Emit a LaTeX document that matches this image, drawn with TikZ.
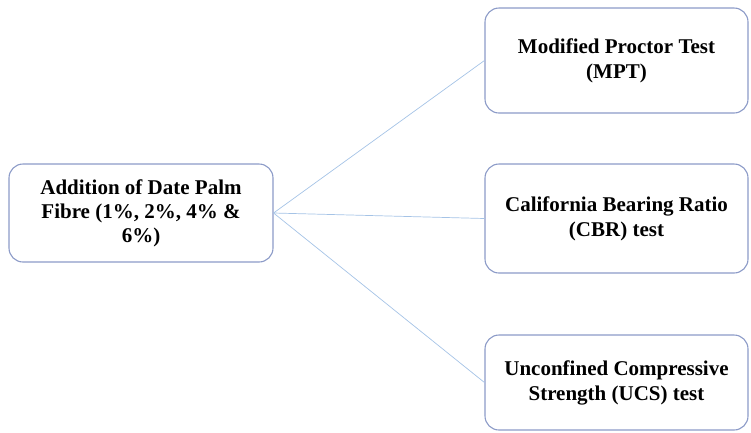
\documentclass[tikz,border=0pt]{standalone}
\usepackage{fontspec}
\setmainfont{Liberation Serif}
\usepackage{xcolor}
\definecolor{boxedge}{RGB}{140,155,200}
\definecolor{linkcol}{RGB}{165,195,230}
\usepackage{tikz}
\usetikzlibrary{calc,positioning}

\begin{document}
\begin{tikzpicture}[x=1pt,y=-1pt]
        \useasboundingbox (0,0) rectangle (751,432);
        \tikzset{testbox/.style={rectangle,rounded corners=14pt,
              draw=boxedge,line width=1.1pt,fill=white,
              minimum width=263pt,align=center,inner sep=0pt,
              font=\fontsize{21}{25}\selectfont\bfseries}}
        \node[testbox,minimum width=264pt,minimum height=98pt,
              font=\fontsize{21}{24}\selectfont\bfseries]
              (fibre) at (141,213) {Addition of Date Palm\\Fibre (1\%, 2\%, 4\% \&\\6\%)};
        \node[testbox,minimum height=105pt]
              (mpt) at (616.5,60.5) {Modified Proctor Test\\(MPT)};
        \node[testbox,minimum height=109pt]
              (cbr) at (616.5,218.5) {California Bearing Ratio\\(CBR) test};
        \node[testbox,minimum height=95pt]
              (ucs) at (616.5,382.5) {Unconfined Compressive\\Strength (UCS) test};
        \draw[linkcol,line width=0.7pt] (fibre.east) -- (mpt.west);
        \draw[linkcol,line width=0.7pt] (fibre.east) -- (cbr.west);
        \draw[linkcol,line width=0.7pt] (fibre.east) -- (ucs.west);
      \end{tikzpicture}
\end{document}
